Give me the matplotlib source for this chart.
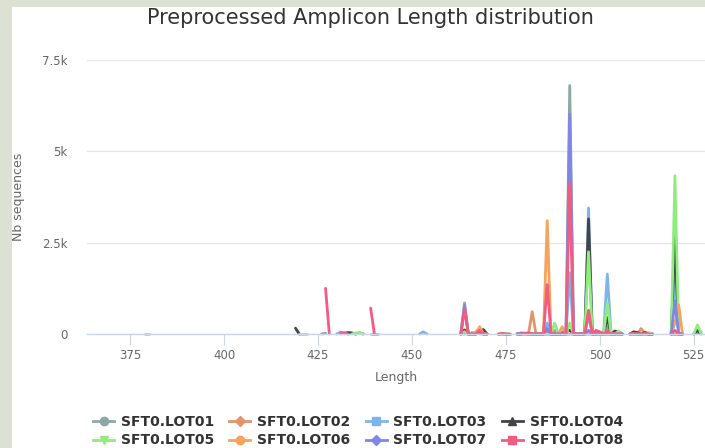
import matplotlib
matplotlib.use("Agg")
from matplotlib import pyplot as plt
from matplotlib.lines import Line2D
from matplotlib.patches import Rectangle

# series names, colours and legend markers
names = ["SFT0.LOT01", "SFT0.LOT02", "SFT0.LOT03", "SFT0.LOT04",
         "SFT0.LOT05", "SFT0.LOT06", "SFT0.LOT07", "SFT0.LOT08"]
colors = ["#8ca8a5", "#e0956a", "#7cb5ec", "#434348",
          "#90ed7d", "#f7a35c", "#8085e9", "#f15c80"]
markers = ["o", "D", "s", "^", "v", "o", "D", "s"]

# each series: list of (first length, counts at consecutive lengths); gaps = no data
lot01 = [(426, [0, 20]),
         (431, [0, 20, 0, 20, 0]),
         (463, [0, 850, 0, 0, 0, 60, 20, 0]),
         (473, [0, 0, 0, 0]),
         (478, [0, 0, 0, 0, 0, 0, 0, 0, 60, 0, 100, 0, 0, 0, 6800, 0, 0, 0, 0, 500, 0, 0, 0, 0, 200, 0, 0, 30, 0]),
         (508, [0, 0, 0, 0, 0, 0, 0]),
         (519, [0, 2200, 0, 0])]
lot02 = [(463, [0, 120, 0, 0, 60, 150, 0, 0]),
         (478, [0, 0, 0, 0, 610, 0, 0, 0, 100, 0, 0, 0, 60, 0, 0, 0, 0, 0, 0, 0, 0, 0, 0, 0, 0, 0, 0, 0, 0]),
         (508, [0, 0, 0, 150, 0, 0, 0]),
         (519, [0, 0, 0, 0])]
lot03 = [(430, [0, 50, 0]),
         (452, [0, 60, 0]),
         (463, [0, 720, 0, 0, 0, 40, 0, 0]),
         (478, [0, 0, 0, 0, 0, 0, 0, 0, 300, 0, 0, 0, 0, 0, 1670, 0, 0, 0, 0, 3450, 0, 0, 0, 0, 1640, 0, 0, 0, 0]),
         (519, [0, 1290, 0, 0]),
         (525, [0, 30, 60])]
lot04 = [(419, [160, 0]),
         (432, [20, 40, 30, 0, 30, 0]),
         (463, [0, 100, 0, 30, 0, 90, 120, 0]),
         (478, [0, 0, 20, 0, 0, 0, 0, 0, 0, 0, 0, 0, 0, 120, 100, 0, 0, 0, 0, 3150, 0, 0, 30, 0, 450, 0, 80, 60, 0]),
         (508, [0, 60, 40, 0, 50, 0, 0]),
         (519, [0, 2700, 0, 0]),
         (525, [0, 100, 0])]
lot05 = [(379, [0, 0]),
         (420, [0, 0, 0]),
         (434, [0, 30, 40, 0]),
         (463, [0, 60, 0, 30, 40, 0, 0, 0]),
         (473, [0, 0, 20, 0]),
         (478, [0, 20, 0, 0, 0, 0, 0, 0, 0, 0, 300, 0, 0, 0, 300, 0, 0, 0, 0, 2250, 0, 0, 0, 0, 850, 0, 0, 80, 0]),
         (508, [0, 0, 0, 0, 0, 40, 0]),
         (519, [0, 4330, 0, 0]),
         (525, [0, 250, 0])]
lot06 = [(439, [0, 0, 0]),
         (463, [0, 0, 0, 0, 0, 200, 0, 0]),
         (478, [0, 0, 0, 0, 0, 0, 0, 0, 3100, 0, 0, 0, 200, 0, 0, 0, 0, 0, 0, 0, 0, 0, 0, 0, 0, 0, 0, 0, 0]),
         (519, [0, 300, 800, 0])]
lot07 = [(463, [0, 780, 0, 0, 0, 30, 0, 0]),
         (478, [0, 30, 20, 0, 0, 0, 0, 0, 150, 0, 0, 0, 0, 0, 6020, 0, 0, 0, 0, 100, 0, 0, 0, 0, 0, 0, 0, 0, 0]),
         (519, [0, 900, 0, 0])]
lot08 = [(427, [1250, 0]),
         (431, [40, 30, 0]),
         (439, [710, 0]),
         (463, [0, 680, 0, 0, 0, 100, 0, 0]),
         (473, [0, 20, 0, 0]),
         (478, [0, 0, 20, 30, 0, 0, 0, 0, 1350, 0, 0, 0, 0, 0, 4130, 0, 0, 0, 0, 650, 0, 100, 60, 0, 80, 0, 0, 0, 0]),
         (508, [0, 20, 0, 0, 30, 0, 0]),
         (519, [0, 100, 0, 0])]
series = [lot01, lot02, lot03, lot04, lot05, lot06, lot07, lot08]

x_ticks = [375, 400, 425, 450, 475, 500, 525]
y_ticks = [0, 2500, 5000, 7500]
y_tick_labels = ["0", "2.5k", "5k", "7.5k"]

plt.rcParams["font.family"] = ["DejaVu Sans"]

fig = plt.figure(figsize=(7.05, 4.48), dpi=100)
fig.patch.set_facecolor("white")
# greyish-green page border on the left and top
fig.patches.append(Rectangle((0, 0), 12 / 705, 1, transform=fig.transFigure,
                             facecolor="#dbe2d4", edgecolor="none", zorder=0))
fig.patches.append(Rectangle((0, 1 - 7 / 448), 1, 7 / 448, transform=fig.transFigure,
                             facecolor="#dbe2d4", edgecolor="none", zorder=0))

ax = fig.add_axes([87 / 705, 114 / 448, 618 / 705, 274 / 448])

for segs, color in zip(series, colors):
    for start, counts in segs:
        xs = list(range(start, start + len(counts)))
        ax.plot(xs, counts, color=color, linewidth=2, solid_joinstyle="round",
                solid_capstyle="round", clip_on=False)

ax.set_xlim(363.5, 528)
ax.set_ylim(0, 7500)
ax.set_xticks(x_ticks)
ax.set_yticks(y_ticks)
ax.set_yticklabels(y_tick_labels)
ax.tick_params(axis="x", length=8, color="#ccd6eb", labelsize=8.5, labelcolor="#666666", pad=3)
ax.tick_params(axis="y", length=0, labelsize=8.5, labelcolor="#666666", pad=14)
ax.grid(axis="y", color="#e6e6e6", linewidth=1)
ax.set_axisbelow(True)
for side in ["top", "right", "left"]:
    ax.spines[side].set_visible(False)
ax.spines["bottom"].set_color("#ccd6eb")
ax.spines["bottom"].set_linewidth(1)

ax.set_xlabel("Length", fontsize=9, color="#666666", labelpad=6)
ax.set_ylabel("Nb sequences", fontsize=9, color="#666666", labelpad=12)
fig.text(370 / 705, 1 - 18 / 448, "Preprocessed Amplicon Length distribution",
         ha="center", va="center", fontsize=15, color="#333333")

handles = [Line2D([0], [0], color=c, marker=m, markersize=6 if m != "D" else 5,
                  linewidth=2) for c, m in zip(colors, markers)]
# matplotlib fills legend column by column; reorder so rows read LOT01..LOT04, LOT05..LOT08
order = [0, 4, 1, 5, 2, 6, 3, 7]
fig.legend([handles[i] for i in order], [names[i] for i in order], loc="center",
           bbox_to_anchor=(358 / 705, 1 - 431 / 448),
           ncol=4, frameon=False, prop={"weight": "bold", "size": 10},
           labelcolor="#333333", handlelength=1.5, handletextpad=0.5,
           columnspacing=1.1, labelspacing=0.35)

fig.savefig("out.png", dpi=100)
